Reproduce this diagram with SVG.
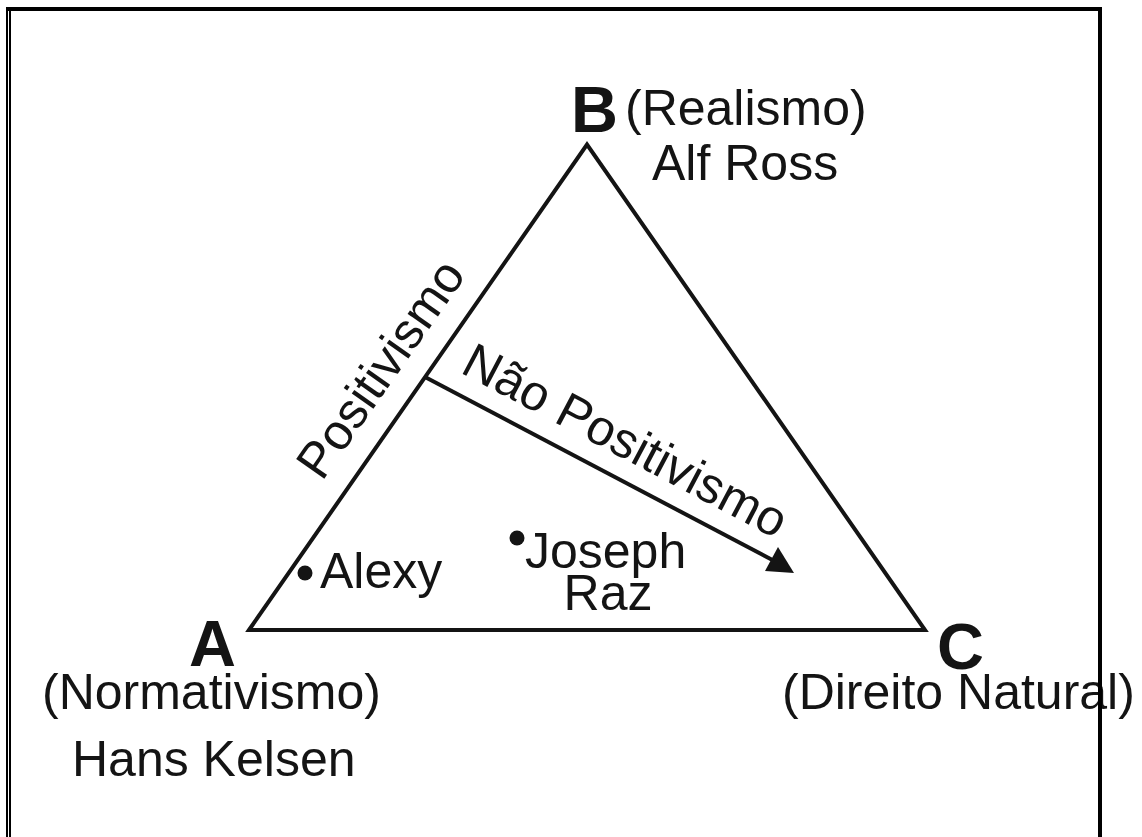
<svg xmlns="http://www.w3.org/2000/svg" width="1142" height="837" viewBox="0 0 1142 837">
  <style>
    .lbl { font-family: "Liberation Sans", Arial, sans-serif; font-size: 50px; fill: #141414; }
    .vtx { font-family: "Liberation Sans", Arial, sans-serif; font-size: 65px; font-weight: bold; fill: #141414; }
    .edge { fill: none; stroke: #141414; stroke-width: 4; stroke-linejoin: miter; }
    .frame { stroke: #000; fill: none; }
  </style>
  <rect width="1142" height="837" fill="#fff"/>

  <!-- triangle -->
  <g id="triangle">
    <polygon class="edge" points="249,630 587,144.5 925,630"/>
  </g>

  <!-- connectors -->
  <g id="connectors">
    <line x1="425" y1="377" x2="780" y2="564" stroke="#141414" stroke-width="4"/>
    <polygon points="765,571 794,573 778,547" fill="#141414"/>
  </g>

  <!-- vertex A -->
  <g id="node-a">
    <text class="vtx" x="189" y="666">A</text>
    <text class="lbl" x="42" y="709">(Normativismo)</text>
    <text class="lbl" x="72" y="776">Hans Kelsen</text>
  </g>

  <!-- vertex B -->
  <g id="node-b">
    <text class="vtx" x="571" y="132">B</text>
    <text class="lbl" x="625" y="125">(Realismo)</text>
    <text class="lbl" x="652" y="180">Alf Ross</text>
  </g>

  <!-- vertex C -->
  <g id="node-c">
    <text class="vtx" x="937" y="669">C</text>
    <text class="lbl" x="782" y="709">(Direito Natural)</text>
  </g>

  <!-- edge labels -->
  <g id="label-positivismo">
    <text class="lbl" transform="translate(322,482) rotate(-55)">Positivismo</text>
  </g>
  <g id="label-nao-positivismo">
    <text class="lbl" transform="translate(459,372) rotate(27.8)">Não Positivismo</text>
  </g>

  <!-- points inside the triangle -->
  <g id="node-alexy">
    <circle cx="305" cy="573" r="7.5" fill="#141414"/>
    <text class="lbl" x="320" y="588">Alexy</text>
  </g>
  <g id="node-raz">
    <circle cx="517" cy="538" r="7.5" fill="#141414"/>
    <text class="lbl" x="525" y="568">Joseph</text>
    <text class="lbl" x="608" y="610" text-anchor="middle">Raz</text>
  </g>

  <!-- page frame -->
  <g id="frame">
    <line class="frame" x1="6" y1="9" x2="1102" y2="9" stroke-width="4"/>
    <line class="frame" x1="7" y1="7" x2="7" y2="837" stroke-width="2"/>
    <line class="frame" x1="10" y1="7" x2="10" y2="837" stroke-width="2"/>
    <line class="frame" x1="1100" y1="7" x2="1100" y2="837" stroke-width="4"/>
  </g>
</svg>
